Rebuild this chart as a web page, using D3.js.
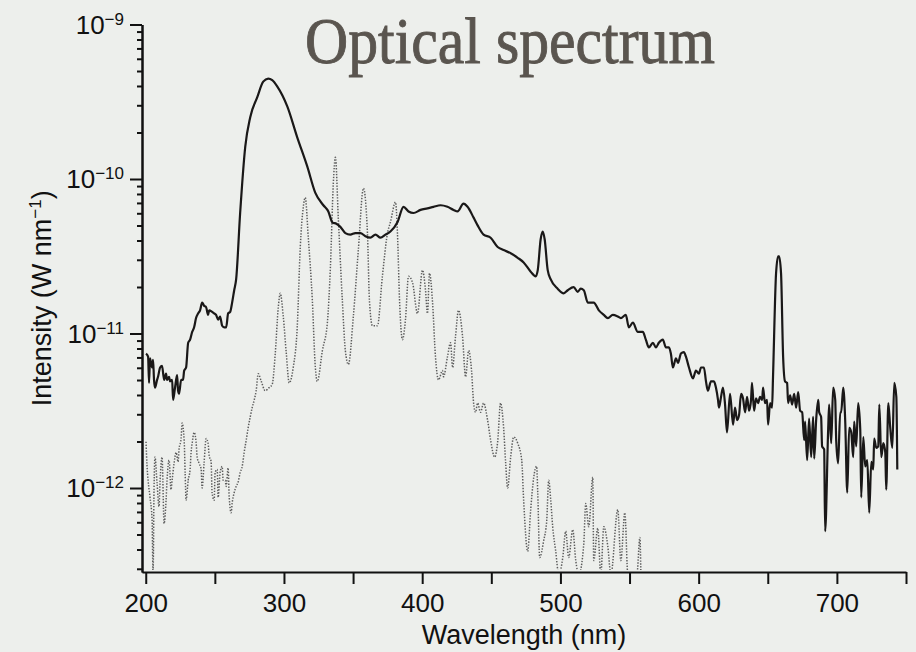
<!DOCTYPE html>
<html>
<head>
<meta charset="utf-8">
<script src="https://cdn.jsdelivr.net/npm/d3@7"></script>
<style>
    html, body { margin: 0; padding: 0; background: #edefec; }
    svg { display: block; }
    text { font-family: "Liberation Sans", Arial, Helvetica, sans-serif; fill: #111; }
</style>
</head>
<body>
<div id="chart"></div>
<script>
// measured spectrum (solid) - wavelength in nm, log10 of intensity in W nm^-1
const solidNm = [200.2,201.7,202.4,203.1,204.6,205.3,206.0,206.7,208.2,208.9,210.4,211.8,213.3,214.7,215.4,216.9,217.6,219.1,219.8,221.2,222.7,223.4,224.1,225.6,227.0,227.8,229.2,230.7,232.1,233.6,235.0,236.4,237.9,239.3,240.8,242.2,243.7,245.1,245.9,248.0,249.5,250.9,252.4,253.8,255.3,256.7,258.2,259.6,261.1,262.5,264.0,265.4,268.3,272.0,275.6,280.7,285.0,288.6,291.5,295.1,302.4,309.6,316.9,322.7,328.5,332.1,335.0,337.9,340.8,344.4,348.0,351.7,355.3,358.9,362.5,366.2,369.8,373.4,377.0,382.1,386.5,390.1,393.7,398.8,403.8,408.2,413.3,418.3,422.7,425.6,429.9,432.8,437.2,440.1,444.4,449.5,454.6,458.9,464.0,469.1,473.4,478.5,482.1,483.6,485.7,487.2,488.6,490.8,493.0,498.0,502.4,505.3,509.6,512.5,514.7,516.9,519.8,522.0,524.1,527.8,531.4,534.3,537.9,541.5,543.7,547.3,549.5,552.4,556.0,559.6,561.8,564.0,566.9,569.1,571.2,574.1,576.3,578.5,579.9,581.4,583.6,585.0,587.2,589.3,590.8,593.0,595.9,598.0,600.2,601.7,603.8,605.3,606.7,608.9,611.1,612.5,614.0,614.7,616.2,617.6,619.1,620.5,622.7,624.9,626.3,627.8,629.2,630.7,632.1,633.6,635.0,636.5,637.9,638.6,640.1,641.5,643.0,644.4,645.9,646.6,648.0,649.5,650.2,651.7,653.1,653.8,656.0,657.5,658.2,659.6,661.1,662.5,664.0,664.7,666.2,667.6,669.1,670.5,672.0,673.4,674.9,676.3,677.0,678.5,679.9,681.4,682.8,683.6,685.0,686.5,687.2,688.6,689.3,690.8,691.5,693.7,694.4,695.9,697.3,698.8,699.5,700.9,702.4,703.1,704.6,706.0,707.5,708.9,710.4,711.8,712.5,714.0,715.4,716.9,717.6,719.1,720.5,722.0,723.4,724.9,726.3,727.0,728.5,729.9,730.7,732.1,733.6,735.0,735.7,737.2,738.6,740.1,741.5,743.0,743.7];
const solidLogI = [-11.13,-11.15,-11.32,-11.16,-11.22,-11.17,-11.30,-11.35,-11.30,-11.28,-11.22,-11.21,-11.30,-11.26,-11.30,-11.28,-11.31,-11.30,-11.43,-11.35,-11.27,-11.37,-11.39,-11.30,-11.30,-11.24,-11.22,-11.06,-11.04,-10.99,-10.96,-10.90,-10.87,-10.85,-10.80,-10.82,-10.83,-10.88,-10.85,-10.86,-10.87,-10.88,-10.91,-10.89,-10.95,-10.96,-10.96,-10.87,-10.86,-10.80,-10.72,-10.65,-10.22,-9.79,-9.60,-9.47,-9.37,-9.35,-9.36,-9.40,-9.53,-9.73,-9.92,-10.09,-10.17,-10.21,-10.28,-10.29,-10.31,-10.35,-10.36,-10.35,-10.35,-10.37,-10.38,-10.36,-10.38,-10.36,-10.34,-10.28,-10.18,-10.21,-10.22,-10.20,-10.19,-10.18,-10.17,-10.18,-10.20,-10.21,-10.16,-10.18,-10.25,-10.30,-10.36,-10.38,-10.44,-10.46,-10.48,-10.51,-10.54,-10.60,-10.63,-10.59,-10.39,-10.34,-10.39,-10.59,-10.65,-10.71,-10.74,-10.72,-10.70,-10.73,-10.71,-10.72,-10.80,-10.80,-10.80,-10.85,-10.88,-10.90,-10.88,-10.89,-10.90,-10.88,-10.96,-10.93,-10.99,-10.99,-11.04,-11.09,-11.06,-11.09,-11.06,-11.04,-11.09,-11.09,-11.13,-11.22,-11.16,-11.19,-11.13,-11.12,-11.15,-11.22,-11.29,-11.24,-11.26,-11.22,-11.22,-11.31,-11.37,-11.31,-11.31,-11.35,-11.43,-11.48,-11.41,-11.35,-11.46,-11.64,-11.39,-11.59,-11.48,-11.56,-11.53,-11.39,-11.42,-11.51,-11.41,-11.50,-11.43,-11.32,-11.50,-11.42,-11.45,-11.41,-11.43,-11.35,-11.45,-11.43,-11.59,-11.45,-11.48,-11.28,-10.61,-10.50,-10.50,-10.61,-11.15,-11.31,-11.32,-11.45,-11.40,-11.46,-11.39,-11.48,-11.38,-11.50,-11.51,-11.69,-11.57,-11.82,-11.55,-11.80,-11.54,-11.81,-11.56,-11.43,-11.51,-11.54,-11.73,-11.75,-12.28,-11.62,-11.46,-11.71,-11.35,-11.43,-11.69,-11.84,-11.51,-11.51,-11.35,-11.56,-12.03,-11.61,-11.64,-11.80,-11.57,-11.73,-11.45,-11.62,-12.06,-11.67,-11.86,-11.82,-12.16,-11.83,-11.88,-11.68,-11.74,-11.73,-11.46,-11.80,-11.71,-11.77,-12.01,-11.45,-11.61,-11.74,-11.32,-11.41,-11.88];

// dotted spectrum
const dottedNm = [200.2,200.9,201.7,203.1,204.6,205.3,206.0,206.7,208.2,209.6,210.4,211.8,213.3,214.7,215.4,216.9,218.3,219.1,220.5,222.0,223.4,224.1,225.6,226.3,227.8,228.5,229.2,230.7,232.1,232.8,233.6,235.0,236.4,237.2,238.6,240.1,240.8,242.2,243.7,245.1,245.9,247.3,248.0,249.5,250.2,251.7,252.4,253.8,255.3,256.0,257.5,258.2,259.6,260.4,261.8,262.5,264.0,265.4,266.9,268.3,269.8,271.2,272.7,274.1,275.6,277.0,278.5,279.9,281.4,283.6,286.4,289.3,291.5,293.7,295.9,297.3,299.5,301.7,303.8,306.7,309.6,311.8,314.0,315.4,317.6,320.5,322.7,324.1,327.8,331.4,333.6,335.7,337.2,339.3,342.2,344.4,346.6,350.2,353.8,357.5,360.4,361.8,364.0,367.6,371.2,374.9,377.0,380.7,382.1,383.6,385.7,387.9,390.1,393.0,396.6,400.2,402.4,403.8,405.3,407.5,409.6,411.8,414.7,415.4,418.3,420.5,422.0,424.1,426.3,429.2,431.4,433.6,435.7,437.2,438.6,440.1,442.2,444.4,447.3,449.5,452.4,454.6,456.7,458.9,460.4,461.8,464.0,466.2,469.1,472.0,473.4,476.3,478.5,480.7,482.8,483.6,485.0,487.9,490.1,491.5,493.0,494.4,496.6,498.8,501.7,503.8,506.0,508.9,511.1,513.3,516.9,518.3,520.5,523.4,524.1,527.0,529.2,531.4,534.3,536.5,541.5,543.7,546.6,548.8,552.4,555.3,557.5,558.2];
const dottedLogI = [-11.70,-11.85,-11.95,-12.06,-12.21,-12.56,-12.01,-11.80,-11.97,-12.12,-11.95,-11.80,-12.23,-12.08,-11.95,-11.82,-12.01,-11.95,-11.84,-11.77,-11.83,-11.75,-11.68,-11.58,-11.69,-11.90,-12.08,-11.95,-11.88,-11.77,-11.71,-11.64,-11.70,-11.80,-11.84,-11.88,-12.00,-11.84,-11.68,-11.71,-11.79,-11.83,-12.03,-12.08,-11.90,-11.88,-12.06,-11.90,-11.86,-11.95,-11.95,-11.99,-11.87,-12.06,-12.16,-12.10,-12.03,-11.99,-11.96,-11.90,-11.86,-11.77,-11.69,-11.61,-11.54,-11.48,-11.43,-11.37,-11.26,-11.31,-11.37,-11.35,-11.33,-11.13,-10.83,-10.74,-10.89,-11.13,-11.32,-11.22,-10.96,-10.44,-10.18,-10.12,-10.38,-10.78,-11.22,-11.31,-11.11,-10.93,-10.57,-10.03,-9.86,-10.25,-10.78,-11.11,-11.20,-10.89,-10.46,-10.06,-10.35,-10.78,-10.95,-10.95,-10.63,-10.35,-10.28,-10.15,-10.35,-10.78,-11.04,-10.91,-10.63,-10.67,-10.87,-10.59,-10.72,-10.87,-10.61,-10.80,-11.15,-11.30,-11.24,-11.28,-11.15,-11.06,-11.22,-11.02,-10.85,-11.02,-11.28,-11.11,-11.24,-11.45,-11.51,-11.45,-11.51,-11.45,-11.56,-11.69,-11.80,-11.70,-11.45,-11.61,-11.84,-12.00,-11.80,-11.67,-11.71,-11.82,-12.08,-12.41,-12.14,-11.93,-11.86,-12.03,-12.45,-12.34,-12.21,-11.95,-12.08,-12.25,-12.41,-12.56,-12.45,-12.28,-12.45,-12.27,-12.47,-12.56,-12.36,-12.10,-12.25,-11.93,-12.47,-12.26,-12.56,-12.25,-12.38,-12.56,-12.14,-12.47,-12.16,-12.56,-12.56,-12.56,-12.32,-12.56];

const xTicks = d3.range(200, 751, 50);
const xLabels = [200, 300, 400, 500, 600, 700];
const yDecades = [-12, -11, -10, -9];

const width = 916, height = 652;
const plot = { left: 142, right: 906, top: 24.5, bottom: 572 };

const svg = d3.select("#chart").append("svg")
    .attr("width", width)
    .attr("height", height);

svg.append("rect").attr("width", width).attr("height", height).attr("fill", "#edefec");

// scales
const x = d3.scaleLinear().domain([197.3, 750]).range([plot.left, plot.right]);
const y = d3.scaleLog().domain([2.86e-13, 1e-9]).range([plot.bottom, plot.top]);

// clip to plot area
svg.append("clipPath").attr("id", "clip")
    .append("rect")
    .attr("x", plot.left).attr("y", plot.top)
    .attr("width", plot.right - plot.left).attr("height", plot.bottom - plot.top - 2);

const line = d3.line()
    .x(d => x(d[0]))
    .y(d => y(Math.pow(10, d[1])))
    .curve(d3.curveMonotoneX);

const lines = svg.append("g").attr("clip-path", "url(#clip)");

lines.append("path")
    .datum(d3.zip(dottedNm, dottedLogI))
    .attr("d", line)
    .attr("fill", "none")
    .attr("stroke", "#5c5c5c")
    .attr("stroke-width", 1.5)
    .attr("stroke-dasharray", "1.4 1.5");

lines.append("path")
    .datum(d3.zip(solidNm, solidLogI))
    .attr("d", line)
    .attr("fill", "none")
    .attr("stroke", "#1a1818")
    .attr("stroke-width", 2.2)
    .attr("stroke-linejoin", "round");

// x axis
const xAxis = svg.append("g")
    .attr("transform", `translate(0,${plot.bottom})`)
    .call(d3.axisBottom(x)
        .tickValues(xTicks)
        .tickSize(12)
        .tickSizeOuter(0)
        .tickFormat(d => xLabels.includes(d) ? d : ""));
xAxis.selectAll("text")
    .attr("y", 22)
    .attr("font-size", "26px")
    .style("font-family", "'Liberation Sans', Arial, sans-serif")
    .attr("fill", "#111");

// y axis - minor ticks
const minorTicks = [];
[-13, -12, -11, -10].forEach(e => {
    for (let m = 2; m <= 9; m++) {
        const v = m * Math.pow(10, e);
        if (v >= 2.86e-13 && v <= 1e-9) minorTicks.push(v);
    }
});
svg.append("g")
    .attr("transform", `translate(${plot.left},0)`)
    .call(d3.axisLeft(y).tickValues(minorTicks).tickSize(5).tickSizeOuter(0).tickFormat(""));

// y axis - decades
svg.append("g")
    .attr("transform", `translate(${plot.left},0)`)
    .call(d3.axisLeft(y)
        .tickValues(yDecades.map(e => Math.pow(10, e)))
        .tickSize(12)
        .tickSizeOuter(0)
        .tickFormat(""));

svg.selectAll(".domain, .tick line")
    .attr("stroke", "#111")
    .attr("stroke-width", 2);

// decade labels 10^n
const yLab = svg.append("g");
yDecades.forEach(e => {
    const t = yLab.append("text")
        .attr("x", 124)
        .attr("y", y(Math.pow(10, e)) + 9)
        .attr("text-anchor", "end");
    t.append("tspan").attr("font-size", "26px").text("10");
    t.append("tspan").attr("font-size", "17px").attr("dy", -9).text("\u2212" + Math.abs(e));
});

// axis titles
svg.append("text")
    .attr("x", (plot.left + plot.right) / 2)
    .attr("y", 644)
    .attr("text-anchor", "middle")
    .attr("font-size", "27px")
    .text("Wavelength (nm)");

const yTitle = svg.append("text")
    .attr("transform", `translate(51,${(plot.top + plot.bottom) / 2}) rotate(-90)`)
    .attr("text-anchor", "middle")
    .attr("font-size", "27px");
yTitle.append("tspan").text("Intensity (W nm");
yTitle.append("tspan").attr("font-size", "17px").attr("dy", -10).text("\u22121");
yTitle.append("tspan").attr("dy", 10).text(")");

// title
svg.append("text")
    .attr("x", 305)
    .attr("y", 63)
    .attr("font-size", "66px")
    .attr("textLength", 410)
    .attr("lengthAdjust", "spacingAndGlyphs")
    .style("font-family", "'Liberation Serif', 'DejaVu Serif', serif")
    .style("fill", "#5a554f")
    .style("stroke", "#5a554f")
    .style("stroke-width", 0.9)
    .text("Optical spectrum");
</script>
</body>
</html>
